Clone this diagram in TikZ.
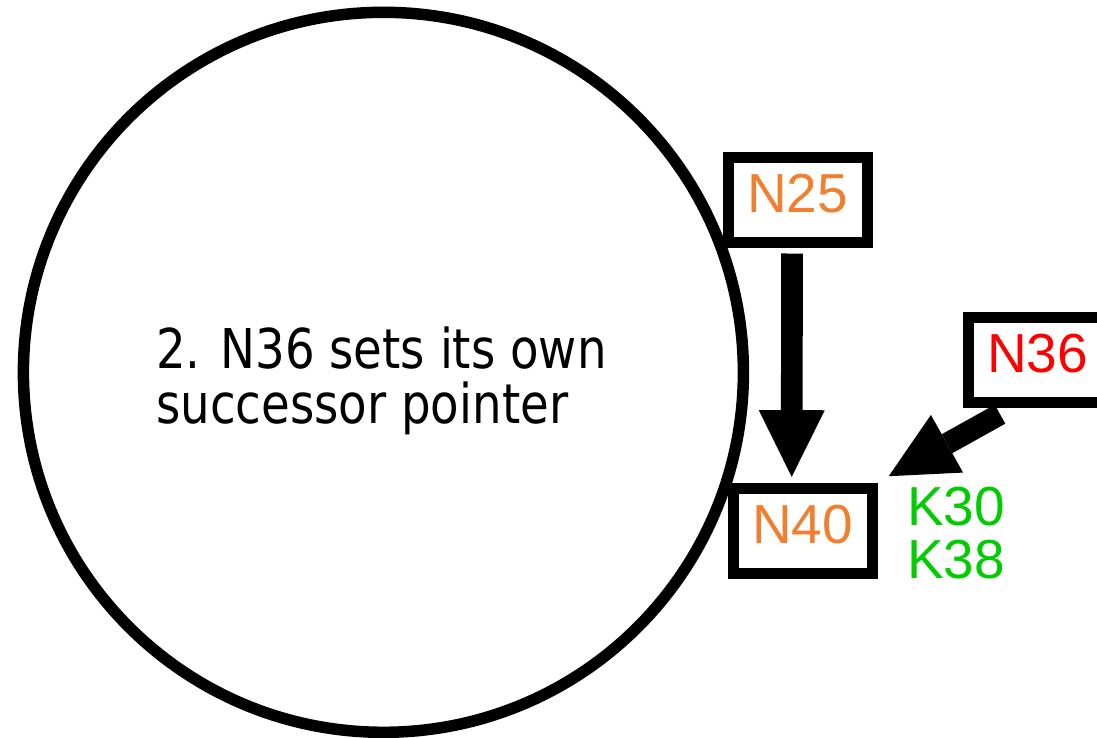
\documentclass[tikz,border=0pt]{standalone}
\usepackage{fontspec}
\setmainfont{Liberation Sans}
\newfontfamily\tahomalike[FakeStretch=0.85]{DejaVu Sans}
\usetikzlibrary{arrows.meta}
\definecolor{nodeorange}{RGB}{240,128,48}
\definecolor{keygreen}{RGB}{0,204,0}
\definecolor{nodered}{RGB}{255,0,0}
\tikzset{
  ringline/.style={draw=black, line width=11.5pt},
  nodebox/.style={draw=black, line width=11pt, minimum width=139pt, minimum height=85pt,
    inner sep=0pt, font=\fontsize{55}{55}\selectfont, text depth=13pt},
  bigarrow/.style={line width=21.7pt, -{Triangle[length=66.7pt,width=66pt,line width=0pt]}},
  keytext/.style={text=keygreen, font=\fontsize{55}{53.3}\selectfont, align=left, inner sep=0pt}
}
\begin{document}
\begin{tikzpicture}[x=1pt,y=-1pt]
\useasboundingbox (0,0) rectangle (1097,737);
\clip (0,0) rectangle (1097,737);
\node[ringline, circle, minimum size=720pt, inner sep=0pt] (ring) at (383.4,372.3) {};
\node[anchor=base west, align=left, inner sep=0pt, font=\tahomalike\fontsize{54.9}{55}\selectfont] (caption) at (156,423.3) {2. N36 sets its own\\successor pointer};
\node[nodebox, text=nodeorange] (N25) at (797.5,199.5) {N25};
\node[nodebox, text=nodeorange] (N40) at (802.7,530.5) {N40};
\node[nodebox, text=nodered] (N36) at (1037.5,359.5) {N36};
\node[keytext, anchor=base west] (keys) at (907,578.3) {K30\\K38};
\draw[bigarrow] ([xshift=-5.5pt,yshift=-6pt]N25.south) -- ([xshift=-11pt,yshift=5.6pt]N40.north);
\draw[bigarrow] ([xshift=-37.5pt,yshift=-6.7pt]N36.south) -- ([xshift=11pt,yshift=6.3pt]N40.north east);
\end{tikzpicture}
\end{document}
